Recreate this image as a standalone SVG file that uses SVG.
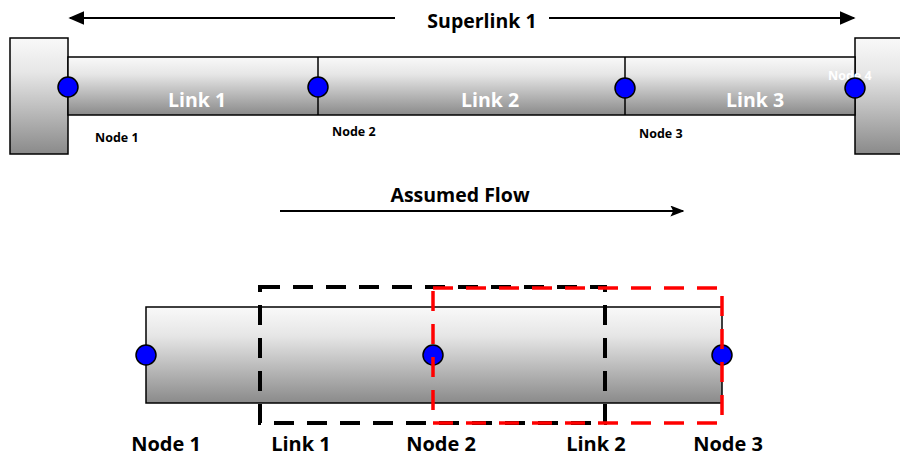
<svg xmlns="http://www.w3.org/2000/svg" width="900" height="457" viewBox="0 0 900 457">
  <style>
    .pipe { stroke: #000; stroke-width: 1.5; }
    .wall { stroke: #000; stroke-width: 1.5; }
    .node { fill: #0000ff; stroke: #000; stroke-width: 1.5; }
    .div { stroke: #000; stroke-width: 1.5; }
    .lbl { font-family: "Open Sans", Lato, sans-serif; font-weight: bold; }
    .linkw { fill: #ffffff; font-size: 19.5px; text-anchor: middle; }
    .nsmall { fill: #000; font-size: 12.5px; }
    .nbig { fill: #000; font-size: 20px; text-anchor: middle; }
    .title { fill: #000; font-size: 19.5px; text-anchor: middle; }
    .arrow { stroke: #000; stroke-width: 2; fill: none; }
    .dashk { fill: none; stroke: #000; stroke-width: 4; stroke-dasharray: 20 13; }
    .dashr { fill: none; stroke: #ff0000; stroke-width: 3.5; stroke-dasharray: 20 13; }
  </style>
  <defs>
    <linearGradient id="metal" x1="0" y1="0" x2="0" y2="1">
      <stop offset="0" stop-color="#f9f9f9"/>
      <stop offset="0.3" stop-color="#e6e6e6"/>
      <stop offset="1" stop-color="#8a8a8a"/>
    </linearGradient>
    <marker id="head" viewBox="0 0 10 10" refX="9" refY="5" markerWidth="14" markerHeight="11" markerUnits="userSpaceOnUse" orient="auto-start-reverse" preserveAspectRatio="none">
      <path d="M0,0 L10,5 L0,10 L2,5 z" fill="#000"/>
    </marker>
    <marker id="bighead" viewBox="0 0 10 10" refX="9" refY="5" markerWidth="16" markerHeight="14" markerUnits="userSpaceOnUse" orient="auto-start-reverse" preserveAspectRatio="none">
      <path d="M0,0 L10,5 L0,10 z" fill="#000"/>
    </marker>
  </defs>

  <!-- upper superlink: walls and pipe -->
  <g id="wall-left"><rect class="wall" x="10" y="38" width="58" height="116" fill="url(#metal)"/></g>
  <g id="wall-right"><rect class="wall" x="855" y="38" width="50" height="116" fill="url(#metal)"/></g>
  <g id="pipe-top"><rect class="pipe" x="68" y="57" width="787" height="58" fill="url(#metal)"/></g>

  <g id="connectors">
    <line class="div" x1="318" y1="57" x2="318" y2="115"/>
    <line class="div" x1="625" y1="57" x2="625" y2="115"/>
    <!-- superlink span arrow -->
    <line class="arrow" x1="395" y1="18" x2="70" y2="18" marker-end="url(#bighead)"/>
    <line class="arrow" x1="549" y1="18" x2="854" y2="18" marker-end="url(#bighead)"/>
    <!-- flow direction -->
    <line class="arrow" x1="280" y1="211" x2="683" y2="211" marker-end="url(#head)"/>
    <!-- lower pipe divider -->
    <line class="div" x1="433" y1="307" x2="433" y2="403"/>
  </g>

  <g id="link1-top"><text class="lbl linkw" x="197" y="107">Link 1</text></g>
  <g id="link2-top"><text class="lbl linkw" x="490" y="107">Link 2</text></g>
  <g id="link3-top"><text class="lbl linkw" x="755" y="107">Link 3</text></g>

  <g id="node1-top"><circle class="node" cx="68" cy="87" r="10"/><text class="lbl nsmall" x="95" y="142">Node 1</text></g>
  <g id="node2-top"><circle class="node" cx="318" cy="87" r="10"/><text class="lbl nsmall" x="332" y="136">Node 2</text></g>
  <g id="node3-top"><circle class="node" cx="625" cy="88" r="10"/><text class="lbl nsmall" x="639" y="138">Node 3</text></g>
  <g id="node4-top"><text class="lbl nsmall" x="828" y="80" style="fill:#fff">Node 4</text><circle class="node" cx="855" cy="88" r="10"/></g>

  <g id="superlink-label"><text class="lbl title" x="482" y="28">Superlink 1</text></g>
  <g id="flow-label"><text class="lbl title" x="460" y="202">Assumed Flow</text></g>

  <!-- lower detail -->
  <g id="pipe-bottom"><rect class="pipe" x="146" y="307" width="576" height="96" fill="url(#metal)"/></g>
  <g id="node1-bottom"><circle class="node" cx="146" cy="355" r="10"/><text class="lbl nbig" x="166" y="451">Node 1</text></g>
  <g id="node2-bottom"><circle class="node" cx="433" cy="355" r="10"/><text class="lbl nbig" x="441" y="451">Node 2</text></g>
  <g id="node3-bottom"><circle class="node" cx="722" cy="355" r="10"/><text class="lbl nbig" x="728" y="451">Node 3</text></g>
  <g id="link1-box"><rect class="dashk" x="260" y="287" width="345" height="136"/><text class="lbl nbig" x="301" y="451">Link 1</text></g>
  <g id="link2-box"><rect class="dashr" x="433" y="288" width="289" height="135"/><text class="lbl nbig" x="596" y="451">Link 2</text></g>
</svg>
